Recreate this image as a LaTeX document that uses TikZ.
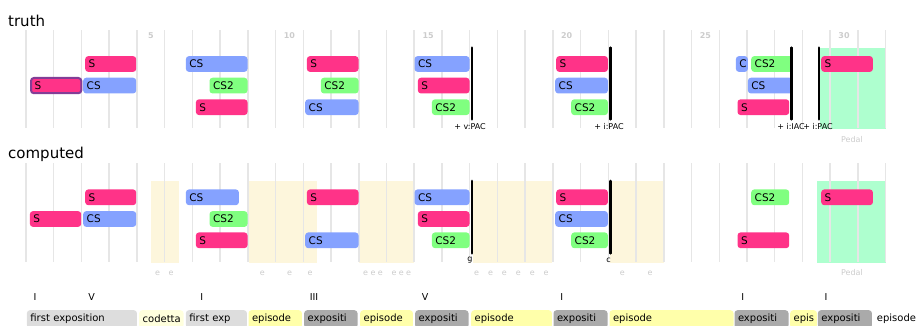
\documentclass[tikz,border=0pt]{standalone}
\usepackage{fontspec}
\setmainfont{DejaVu Sans}
\definecolor{sC}{HTML}{FF3388}
\definecolor{csC}{HTML}{85A2FF}
\definecolor{cstwoC}{HTML}{80FF80}
\definecolor{purp}{HTML}{833D96}
\definecolor{gridC}{HTML}{E6E6E6}
\definecolor{yelC}{HTML}{FDF6DC}
\definecolor{pedC}{HTML}{AEFFCF}
\definecolor{numC}{HTML}{CCCCCC}
\definecolor{secA}{HTML}{DDDDDD}
\definecolor{secB}{HTML}{FFFFDD}
\definecolor{secC}{HTML}{FFFFAA}
\definecolor{secD}{HTML}{AAAAAA}
\tikzset{
  segbox/.style={rounded corners=3pt, minimum height=15.7pt, inner xsep=3.5pt, inner ysep=0pt,
    align=left, font=\fontsize{10.5}{12}\selectfont, text=black, anchor=west},
  secnode/.style={rounded corners=3pt, minimum height=18pt, inner xsep=3.5pt, inner ysep=0pt,
    align=left, font=\fontsize{10}{12}\selectfont, text=black, anchor=north west},
  gridline/.style={draw=gridC, line width=1.5pt},
  cadbar/.style={draw=black, line width=2.8pt, line cap=round},
  cadlbl/.style={font=\fontsize{8}{9}\selectfont, text=black, inner sep=0pt},
  numlbl/.style={font=\bfseries\fontsize{8}{9}\selectfont, text=numC, inner sep=0pt},
  elbl/.style={font=\fontsize{8}{9}\selectfont, text=numC, inner sep=0pt},
  romlbl/.style={font=\fontsize{9.5}{11}\selectfont, text=black, inner sep=0pt},
  titlelbl/.style={font=\fontsize{15}{18}\selectfont, text=black, inner sep=0pt, anchor=base west},
}
\newcommand\segnd[6]{\pgfmathsetmacro\segw{#4-#3-7}\node[segbox,fill=#2,text width=\segw pt] (#1) at (#3,#5) {#6};}
\newcommand\secnd[5]{\pgfmathsetmacro\segw{#4-#3-7}\node[secnode,fill=#2,text width=\segw pt] (#1) at (#3,310) {#5};}
\begin{document}
\begin{tikzpicture}[x=1pt,y=-1pt]
\useasboundingbox (0,0) rectangle (917,326);
\clip (0,0) rectangle (917,326);
% titles
\node[titlelbl] (ttruth) at (8,26.5) {truth};
\node[titlelbl] (tcomp) at (8,158.5) {computed};
% shading
\fill[pedC] (820,47.7) rectangle (886,128.7);
\foreach \a/\b in {151/179, 249/316.7, 359.3/414.3, 472.7/552.3, 610/664}
  \fill[yelC] (\a,181) rectangle (\b,262.7);
\fill[pedC] (817,181) rectangle (886,262.7);
% grid
\foreach \k in {0,...,31}{
  \draw[gridline] ({26+27.73*\k},30) -- ({26+27.73*\k},128);
  \draw[gridline] ({26+27.73*\k},163.3) -- ({26+27.73*\k},262);
}
\foreach \n in {5,10,...,30}
  \node[numlbl] (n\n) at ({26+27.73*(\n-0.5)},35.7) {\n};
% truth boxes
\def\ra{64}\def\rb{85.6}\def\rc{107.2}
\segnd{t1}{sC}{85}{136}{\ra}{S}
\node[segbox,fill=sC,draw=purp,line width=2pt,minimum height=15.3pt,text width=43.3pt] (t2) at (30,\rb) {S};
\segnd{t3}{csC}{83}{136}{\rb}{CS}
\segnd{t4}{csC}{185.7}{247.3}{\ra}{CS}
\segnd{t5}{cstwoC}{209.3}{247.3}{\rb}{CS2}
\segnd{t6}{sC}{195.7}{247.3}{\rc}{S}
\segnd{t7}{sC}{306.7}{358.3}{\ra}{S}
\segnd{t8}{cstwoC}{320.7}{358.3}{\rb}{CS2}
\segnd{t9}{csC}{305}{358.3}{\rc}{CS}
\segnd{t10}{csC}{414.3}{469.3}{\ra}{CS}
\segnd{t11}{sC}{417.7}{469.3}{\rb}{S}
\segnd{t12}{cstwoC}{431.7}{469.3}{\rc}{CS2}
\segnd{t13}{sC}{556}{607.7}{\ra}{S}
\segnd{t14}{csC}{555}{607.7}{\rb}{CS}
\segnd{t15}{cstwoC}{571}{607.7}{\rc}{CS2}
\segnd{t16}{csC}{735.7}{747.7}{\ra}{C}
\segnd{t17}{cstwoC}{751}{792.3}{\ra}{CS2}
\segnd{t18}{csC}{747.7}{792.3}{\rb}{CS}
\segnd{t19}{sC}{737.3}{789}{\rc}{S}
\segnd{t20}{sC}{821}{872.7}{\ra}{S}
% truth cadences
\foreach \x in {472,610.3,791.7,819}
  \draw[cadbar] (\x,47.7) -- (\x,119.3);
\node[cadlbl] (c1) at (470,126.3) {+ v:PAC};
\node[cadlbl] (c2) at (609,126.3) {+ i:PAC};
\node[cadlbl] (c3) at (791,126.3) {+ i:IAC};
\node[cadlbl] (c4) at (818,126.3) {+ i:PAC};
\node[elbl] (ped1) at (852,139.5) {Pedal};
% computed boxes
\def\ra{197.3}\def\rb{219}\def\rc{240.3}
\segnd{b1}{sC}{85}{136}{\ra}{S}
\segnd{b2}{sC}{29.7}{81}{\rb}{S}
\segnd{b3}{csC}{83}{136}{\rb}{CS}
\segnd{b4}{csC}{185.7}{238.7}{\ra}{CS}
\segnd{b5}{cstwoC}{209.3}{247.3}{\rb}{CS2}
\segnd{b6}{sC}{195.7}{247.3}{\rc}{S}
\segnd{b7}{sC}{306.7}{358.3}{\ra}{S}
\segnd{b8}{csC}{305}{358.3}{\rc}{CS}
\segnd{b9}{csC}{414.3}{469.3}{\ra}{CS}
\segnd{b10}{sC}{417.7}{469.3}{\rb}{S}
\segnd{b11}{cstwoC}{431.7}{469.3}{\rc}{CS2}
\segnd{b12}{sC}{556}{607.7}{\ra}{S}
\segnd{b13}{csC}{555}{607.7}{\rb}{CS}
\segnd{b14}{cstwoC}{571}{607.7}{\rc}{CS2}
\segnd{b15}{cstwoC}{751}{789}{\ra}{CS2}
\segnd{b16}{sC}{737.3}{789}{\rc}{S}
\segnd{b17}{sC}{821}{872.7}{\ra}{S}
\foreach \x in {472,610.3}
  \draw[cadbar] (\x,181) -- (\x,253.3);
\node[cadlbl] (g1) at (470,260) {g};
\node[cadlbl] (g2) at (608.5,260) {c};
\foreach \x [count=\i] in {157.7,171,262.3,289.7,310,365.7,373,380.3,394,401.3,408.6,476.7,490.7,504.3,518.3,532.3,546,622.3,650}
  \node[elbl] (e\i) at (\x,273.3) {e};
\node[elbl] (ped2) at (852,272.7) {Pedal};
% roman numerals
\foreach \x/\r [count=\i] in {35/I,91.7/V,201.7/I,314/III,425/V,561.7/I,742.7/I,826/I}
  \node[romlbl] (r\i) at (\x,296.7) {\r};
% sections
\secnd{s1}{secA}{26.7}{136.7}{first exposition}
\secnd{s2}{secB}{139}{183.3}{codetta}
\secnd{s3}{secA}{185.7}{246.7}{first exp}
\secnd{s4}{secC}{248.3}{301.7}{episode}
\secnd{s5}{secD}{304}{357.3}{expositi}
\secnd{s6}{secC}{360}{412.7}{episode}
\secnd{s7}{secD}{415}{468.3}{expositi}
\secnd{s8}{secC}{471}{551.7}{episode}
\secnd{s9}{secD}{553.3}{607.3}{expositi}
\secnd{s10}{secC}{609.3}{733.3}{episode}
\secnd{s11}{secD}{734.3}{788.3}{expositi}
\secnd{s12}{secC}{790}{816.7}{epis}
\secnd{s13}{secD}{817.7}{871.7}{expositi}
\node[secnode,text width=40pt] (s14) at (873.2,310) {episode};
\end{tikzpicture}
\end{document}
